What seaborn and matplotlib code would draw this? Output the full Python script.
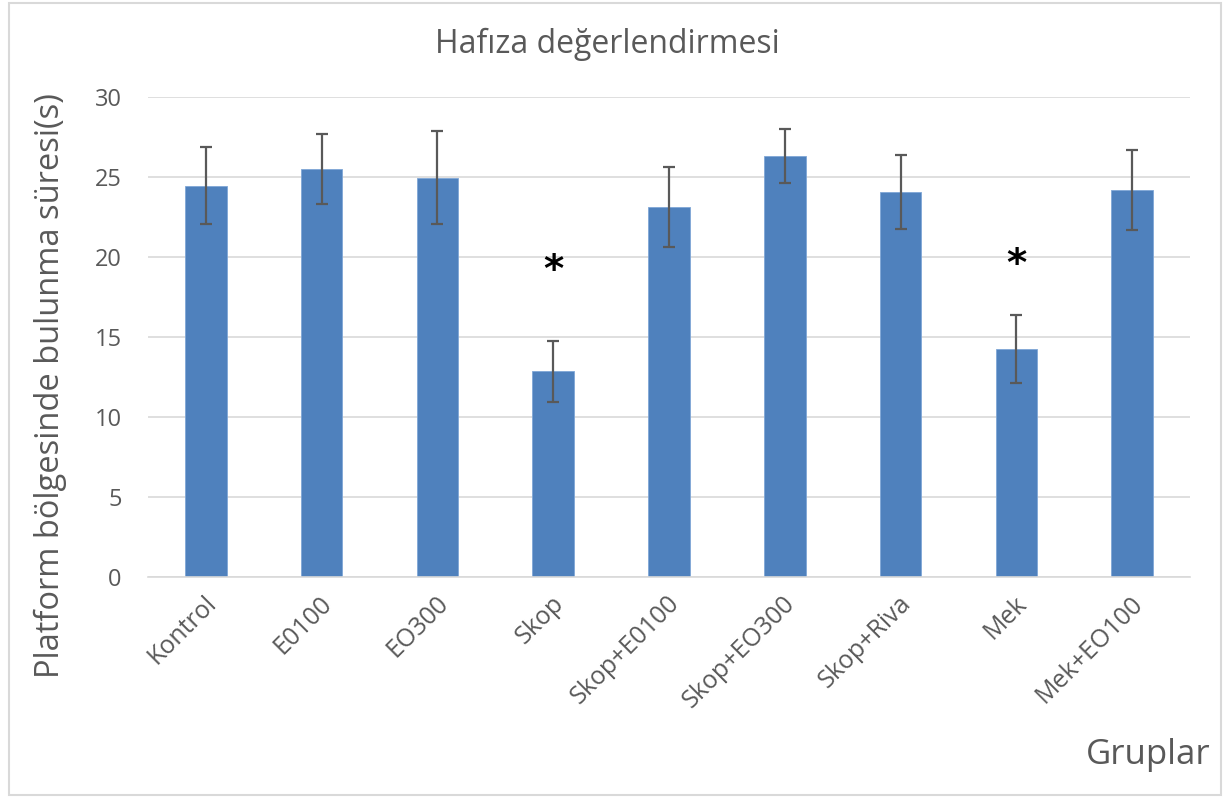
import matplotlib
matplotlib.use("Agg")
import matplotlib.pyplot as plt
import matplotlib.transforms as mtransforms
import seaborn as sns
import pandas as pd
from matplotlib.patches import Rectangle

# data
groups = ["Kontrol", "E0100", "EO300", "Skop", "Skop+E0100",
          "Skop+EO300", "Skop+Riva", "Mek", "Mek+EO100"]
means = [24.45, 25.5, 24.95, 12.85, 23.15, 26.3, 24.05, 14.25, 24.2]
errors = [2.4, 2.2, 2.9, 1.9, 2.5, 1.7, 2.3, 2.1, 2.5]
star_groups = ["Skop", "Mek"]
star_heights = [19.1, 19.5]

df = pd.DataFrame({"grup": groups, "sure": means, "hata": errors})

sns.set_theme(style="white")
plt.rcParams['font.family'] = ['Open Sans', 'DejaVu Sans']
txt_color = "#595959"

fig = plt.figure(figsize=(12.3, 7.98), dpi=100)
ax = fig.add_axes([0.1203, 0.2769, 0.8472, 0.6015])

sns.barplot(data=df, x="grup", y="sure", color="#4F81BD", saturation=1,
            width=0.36, edgecolor="#7FA6D6", linewidth=0.6, ax=ax, zorder=2)
ax.errorbar(x=range(len(groups)), y=df["sure"], yerr=df["hata"], fmt="none",
            ecolor="#595959", elinewidth=1.6, capsize=4.5, capthick=1.6, zorder=3)

for g, h in zip(star_groups, star_heights):
    ax.text(groups.index(g), h, "*", ha="center", va="center",
            fontsize=28, fontweight="bold", color="black", family="DejaVu Sans")

ax.set_ylim(0, 30)
ax.set_xlim(-0.5, len(groups) - 0.5)
ax.set_yticks([0, 5, 10, 15, 20, 25, 30])
ax.yaxis.grid(True, color="#D9D9D9", linewidth=1.2, zorder=0)
ax.set_axisbelow(True)
for s in ["top", "right", "left"]:
    ax.spines[s].set_visible(False)
ax.spines["bottom"].set_color("#D9D9D9")
ax.spines["bottom"].set_linewidth(1.2)
ax.tick_params(axis="both", length=0, colors=txt_color)
ax.tick_params(axis="y", labelsize=17, pad=19)
ax.tick_params(axis="x", pad=10)
shift = mtransforms.ScaledTranslation(-2 / 100, 0, fig.dpi_scale_trans)
for lbl in ax.get_xticklabels():
    lbl.set_rotation(45)
    lbl.set_ha("right")
    lbl.set_rotation_mode("anchor")
    lbl.set_fontsize(18)
    lbl.set_color(txt_color)
    lbl.set_transform(lbl.get_transform() + shift)
ax.set_xlabel("")
ax.set_ylabel("")

fig.text(0.4935, 0.944, "Hafıza değerlendirmesi", ha="center", va="center",
         fontsize=23, color=txt_color)
fig.text(0.041, 0.517, "Platform bölgesinde bulunma süresi(s)", rotation=90,
         ha="center", va="center", fontsize=23.5, color=txt_color)
fig.text(0.984, 0.054, "Gruplar", ha="right", va="center",
         fontsize=25, color=txt_color)

fig.patches.append(Rectangle((0.007, 0.004), 0.986, 0.992, transform=fig.transFigure,
                             fill=False, edgecolor="#D9D9D9", linewidth=1.5))

fig.savefig("out.png", dpi=100, facecolor="white")
